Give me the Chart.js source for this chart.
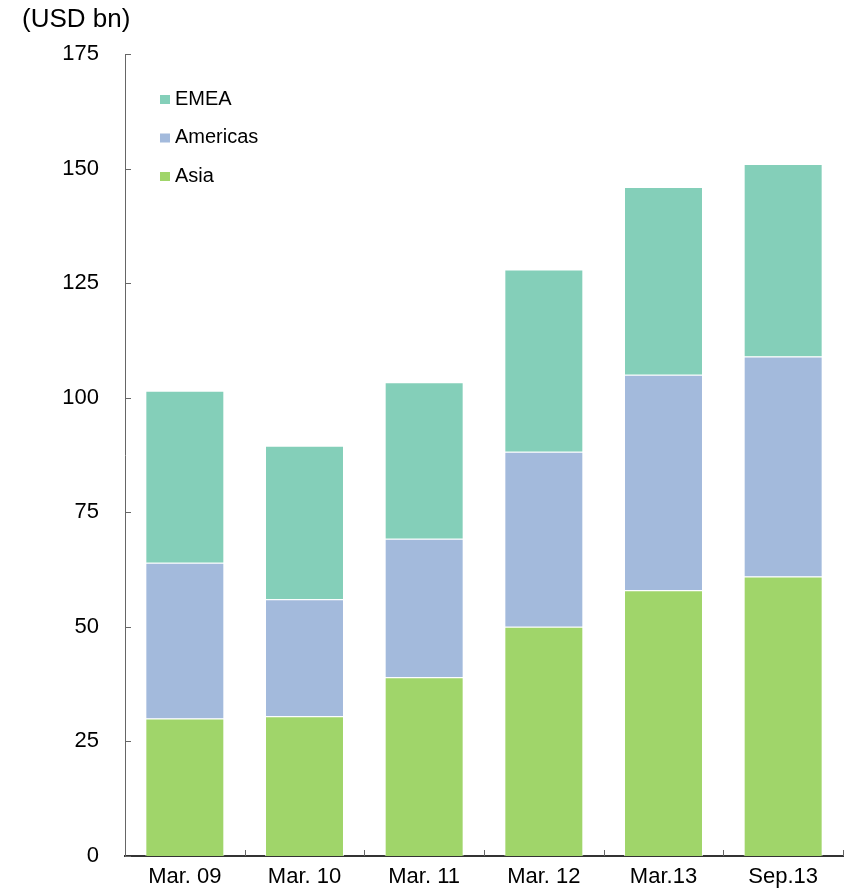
<!DOCTYPE html>
<html>
<head>
<meta charset="utf-8">
<script src="https://cdn.jsdelivr.net/npm/chart.js@4"></script>
<style>
  html, body { margin: 0; padding: 0; background: #fff; }
  #wrap { position: relative; width: 849px; height: 889px; }
</style>
</head>
<body>
<div id="wrap"><canvas id="chart"></canvas></div>
<script>
// data
const periods = ['Mar. 09', 'Mar. 10', 'Mar. 11', 'Mar. 12', 'Mar.13', 'Sep.13'];
const asia = [30, 30.5, 39, 50, 58, 61];
const americas = [34, 25.5, 30.2, 38.2, 47, 48];
const emea = [37.5, 33.5, 34.2, 39.8, 41, 42];
const yTicks = [0, 25, 50, 75, 100, 125, 150, 175];

const FONT = 'Liberation Sans, Arial, sans-serif';

// inward tick marks on both axes + unit label
const axisDecor = {
    id: 'axisDecor',
    afterDraw(chart) {
        const ctx = chart.ctx;
        const x = chart.scales.x, y = chart.scales.y;
        ctx.save();
        ctx.strokeStyle = '#666';
        ctx.lineWidth = 1;
        ctx.beginPath();
        y.ticks.forEach((t, i) => {
            const py = Math.round(y.getPixelForTick(i)) + 0.5;
            ctx.moveTo(x.left, py);
            ctx.lineTo(x.left + 6, py);
        });
        for (let i = 0; i <= periods.length; i++) {
            const px = Math.round(x.left + (x.right - x.left) * i / periods.length) + 0.5;
            ctx.moveTo(px, y.bottom);
            ctx.lineTo(px, y.bottom - 6);
        }
        ctx.stroke();

        ctx.fillStyle = '#000';
        ctx.font = '26px ' + FONT;
        ctx.textAlign = 'left';
        ctx.textBaseline = 'middle';
        ctx.fillText('(USD bn)', 22, 20);
        ctx.restore();
    }
};

// legend drawn inside the plot area, top-left
const innerLegend = {
    id: 'innerLegend',
    afterDraw(chart) {
        const ctx = chart.ctx;
        const ds = chart.data.datasets.slice().reverse();
        ctx.save();
        ctx.font = '20px ' + FONT;
        ctx.textBaseline = 'middle';
        ds.forEach((d, i) => {
            const cy = 99 + i * 38.5;
            ctx.fillStyle = d.backgroundColor;
            ctx.fillRect(160, cy - 4, 10, 9);
            ctx.fillStyle = '#000';
            ctx.fillText(d.label, 175, cy);
        });
        ctx.restore();
    }
};

new Chart(document.getElementById('chart'), {
    type: 'bar',
    data: {
        labels: periods,
        datasets: [
            { label: 'Asia', data: asia, backgroundColor: '#a0d56a' },
            { label: 'Americas', data: americas, backgroundColor: '#a3badc' },
            { label: 'EMEA', data: emea, backgroundColor: '#84cfb9' }
        ].map(d => Object.assign(d, {
            borderColor: 'rgba(255,255,255,0.7)',
            borderWidth: 1,
            categoryPercentage: 1,
            barPercentage: 0.66
        }))
    },
    options: {
        responsive: true,
        maintainAspectRatio: false,
        animation: false,
        layout: { padding: { top: 54, right: 6, left: 0, bottom: 0 } },
        plugins: {
            legend: { display: false },
            tooltip: { enabled: false }
        },
        scales: {
            x: {
                stacked: true,
                grid: { display: false, drawTicks: false },
                border: { display: true, color: '#333', width: 2 },
                ticks: { color: '#000', font: { family: FONT, size: 22 }, padding: 8, maxRotation: 0 },
                afterFit(s) { s.height = 33; s.paddingLeft = 0; s.paddingRight = 0; }
            },
            y: {
                stacked: true,
                min: 0,
                max: 175,
                afterBuildTicks(s) { s.ticks = yTicks.map(v => ({ value: v })); },
                grid: { display: false, drawTicks: false },
                border: { display: true, color: '#666', width: 1 },
                ticks: { color: '#000', font: { family: FONT, size: 22 }, padding: 26 },
                afterFit(s) { s.width = 125; s.paddingTop = 0; s.paddingBottom = 0; }
            }
        }
    },
    plugins: [axisDecor, innerLegend]
});
</script>
</body>
</html>
